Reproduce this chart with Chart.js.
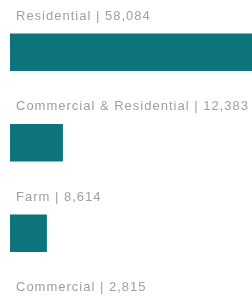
<!DOCTYPE html>
<html>
<head>
<meta charset="utf-8">
<script src="https://cdn.jsdelivr.net/npm/chart.js@4"></script>
<style>
  html, body { margin: 0; padding: 0; background: #fff; overflow: hidden; }
  #wrap { position: relative; width: 252px; height: 369px; }
</style>
</head>
<body>
<div id="wrap"><canvas id="propChart"></canvas></div>
<script>
const categories = ["Residential", "Commercial & Residential", "Farm", "Commercial"];
const counts = [58084, 12383, 8614, 2815];

document.addEventListener("DOMContentLoaded", function (event) {
  const propChart = document.getElementById("propChart");

  // label above each bar: "name | value"
  const barLabels = {
    id: "barLabels",
    afterDatasetsDraw(chart) {
      const ctx = chart.ctx;
      const meta = chart.getDatasetMeta(0);
      const left = chart.scales.x.getPixelForValue(0);
      ctx.save();
      ctx.font = "13px 'Liberation Sans', Arial, sans-serif";
      ctx.letterSpacing = "1px";
      ctx.fillStyle = "#a0a0a0";
      ctx.textAlign = "left";
      ctx.textBaseline = "middle";
      meta.data.forEach(function (bar, i) {
        const txt = categories[i] + " | " + counts[i].toLocaleString("en-US");
        ctx.fillText(txt, left + 6, bar.y - 36);
      });
      ctx.restore();
    },
  };

  new Chart(propChart, {
    type: "bar",
    data: {
      labels: categories,
      datasets: [
        {
          data: counts,
          backgroundColor: "#0d747b",
          borderWidth: 0,
          barThickness: 37,
        },
      ],
    },
    options: {
      indexAxis: "y",
      responsive: true,
      maintainAspectRatio: false,
      animation: false,
      events: [],
      layout: {
        padding: { left: 10, right: 0, top: 7, bottom: 0 },
      },
      scales: {
        x: { display: false, min: 0, max: 57000 },
        y: { display: false },
      },
      plugins: {
        legend: { display: false },
        tooltip: { enabled: false },
        title: { display: false },
      },
    },
    plugins: [barLabels],
  });
});
</script>
</body>
</html>
